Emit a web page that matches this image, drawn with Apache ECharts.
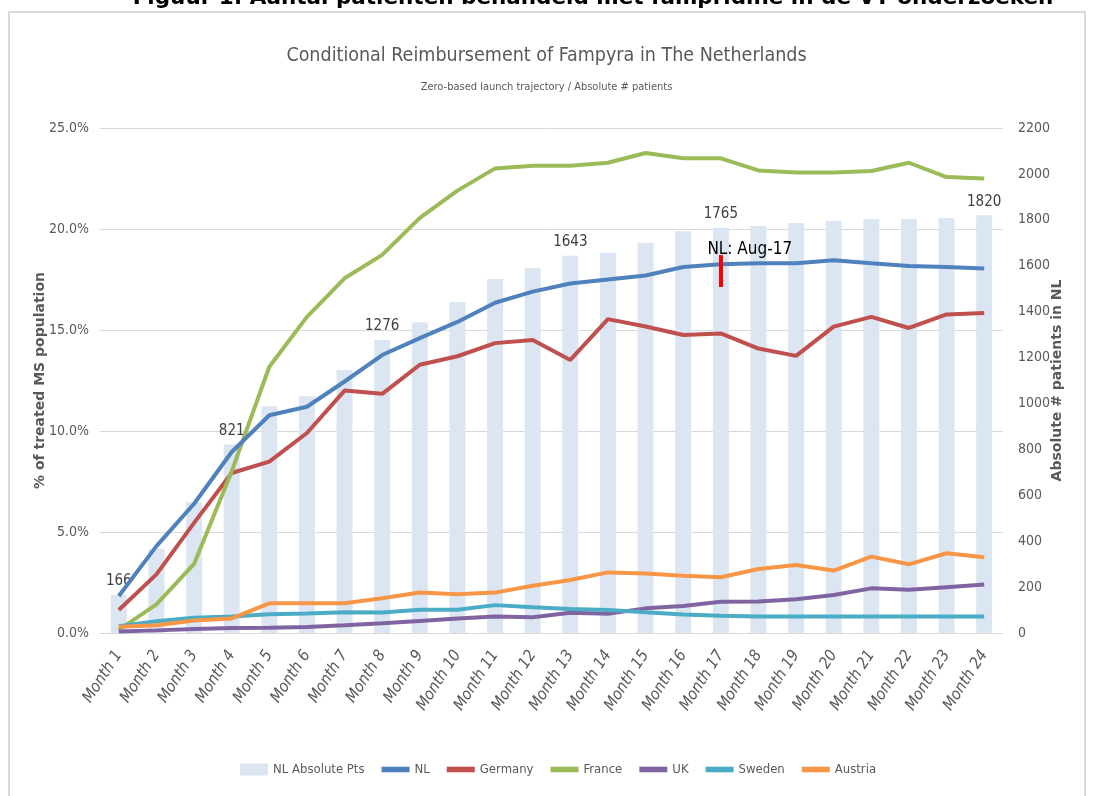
<!DOCTYPE html>
<html>
<head>
<meta charset="utf-8">
<script src="https://cdn.jsdelivr.net/npm/echarts@6/dist/echarts.min.js"></script>
<style>
  html, body { margin: 0; padding: 0; background: #fff; }
  #chart { width: 1093px; height: 796px; }
</style>
</head>
<body>
<div id="chart"></div>
<script>
const months = ['Month 1', 'Month 2', 'Month 3', 'Month 4', 'Month 5', 'Month 6', 'Month 7', 'Month 8',
  'Month 9', 'Month 10', 'Month 11', 'Month 12', 'Month 13', 'Month 14', 'Month 15', 'Month 16',
  'Month 17', 'Month 18', 'Month 19', 'Month 20', 'Month 21', 'Month 22', 'Month 23', 'Month 24'];

// absolute number of NL patients (right axis)
const nlPts = [166, 366, 571, 821, 988, 1031, 1146, 1276, 1354, 1442, 1542, 1590,
  1643, 1656, 1700, 1750, 1765, 1773, 1786, 1795, 1804, 1804, 1808, 1820];
// which bars carry a value label
const labelledMonths = ['Month 1', 'Month 4', 'Month 8', 'Month 13', 'Month 17', 'Month 24'];

// % of treated MS population (left axis)
const nl = [1.83, 4.3, 6.4, 8.96, 10.78, 11.2, 12.45, 13.76, 14.6, 15.4, 16.35, 16.9,
  17.3, 17.5, 17.7, 18.12, 18.25, 18.3, 18.3, 18.45, 18.3, 18.17, 18.12, 18.05];
const germany = [1.14, 2.9, 5.45, 7.92, 8.48, 9.9, 12.0, 11.84, 13.28, 13.7, 14.35, 14.5,
  13.52, 15.54, 15.17, 14.75, 14.83, 14.08, 13.72, 15.17, 15.65, 15.1, 15.77, 15.84];
const france = [0.15, 1.42, 3.42, 8.0, 13.18, 15.65, 17.56, 18.72, 20.55, 21.9, 23.0, 23.13,
  23.13, 23.28, 23.76, 23.5, 23.5, 22.9, 22.8, 22.8, 22.87, 23.28, 22.57, 22.5];
const uk = [0.07, 0.13, 0.2, 0.25, 0.26, 0.3, 0.38, 0.48, 0.6, 0.72, 0.82, 0.78,
  1.0, 0.95, 1.22, 1.34, 1.55, 1.56, 1.67, 1.88, 2.21, 2.14, 2.27, 2.4];
const sweden = [0.33, 0.58, 0.76, 0.82, 0.93, 0.97, 1.03, 1.02, 1.15, 1.15, 1.38, 1.27,
  1.19, 1.14, 1.03, 0.92, 0.86, 0.82, 0.82, 0.82, 0.82, 0.82, 0.82, 0.82];
const austria = [0.31, 0.38, 0.62, 0.72, 1.47, 1.47, 1.47, 1.72, 2.0, 1.92, 2.0, 2.34,
  2.62, 3.0, 2.95, 2.84, 2.76, 3.17, 3.37, 3.09, 3.78, 3.4, 3.95, 3.75];

const pctTicks = { min: 0, max: 25, interval: 5 };
const ptsTicks = { min: 0, max: 2200, interval: 200 };

// NL reimbursement marker
const markerMonth = 'Month 17';
const markerRange = [17.13, 18.71];
const markerText = 'NL: Aug-17';

const narrow = "'DejaVu Sans Condensed', 'Liberation Sans Narrow', 'Liberation Sans', sans-serif";
const grey = '#595959';

const lineIcon = 'path://M0,0h20v4h-20z';

function lineSeries(name, data, color) {
  return {
    name: name,
    type: 'line',
    yAxisIndex: 0,
    data: data,
    showSymbol: false,
    symbol: 'none',
    lineStyle: { width: 4, color: color },
    itemStyle: { color: color },
    z: 3
  };
}

const chart = echarts.init(document.getElementById('chart'));

const nlSeries = lineSeries('NL', nl, '#4F81BD');
nlSeries.z = 4;
nlSeries.markLine = {
  silent: true,
  symbol: 'none',
  lineStyle: { color: '#ff0000', width: 4, type: 'solid' },
  label: { show: false },
  data: [[{ coord: [markerMonth, markerRange[0]] }, { coord: [markerMonth, markerRange[1]] }]]
};
nlSeries.markPoint = {
  silent: true,
  symbol: 'circle',
  symbolSize: 0,
  label: {
    show: true,
    position: 'inside',
    offset: [29, 0],
    formatter: markerText,
    color: '#000',
    fontSize: 17,
    fontFamily: narrow
  },
  data: [{ coord: [markerMonth, 18.96] }]
};

chart.setOption({
  animation: false,
  backgroundColor: '#fff',
  title: {
    text: 'Conditional Reimbursement of Fampyra in The Netherlands',
    subtext: 'Zero-based launch trajectory / Absolute # patients',
    left: 'center',
    top: 41,
    itemGap: 16,
    textStyle: { fontFamily: narrow, fontSize: 19.5, fontWeight: 'normal', color: grey },
    subtextStyle: { fontFamily: narrow, fontSize: 11, color: grey }
  },
  graphic: [
    {
      type: 'rect',
      shape: { x: 9, y: 12, width: 1076, height: 800 },
      style: { fill: 'none', stroke: '#d9d9d9', lineWidth: 2 },
      silent: true,
      z: -10
    },
    {
      type: 'text',
      x: 593,
      y: 9,
      style: {
        text: 'Figuur 1: Aantal patiënten behandeld met fampridine in de VT onderzoeken',
        fontFamily: 'DejaVu Sans',
        fontWeight: 'bold',
        fontSize: 21.5,
        fill: '#000',
        align: 'center',
        verticalAlign: 'bottom'
      },
      silent: true
    }
  ],
  legend: {
    bottom: 15,
    left: 235,
    itemWidth: 28,
    itemHeight: 12,
    itemGap: 17,
    textStyle: { fontFamily: narrow, fontSize: 13, color: grey },
    data: [
      { name: 'NL Absolute Pts', icon: 'rect' },
      { name: 'NL', icon: lineIcon },
      { name: 'Germany', icon: lineIcon },
      { name: 'France', icon: lineIcon },
      { name: 'UK', icon: lineIcon },
      { name: 'Sweden', icon: lineIcon },
      { name: 'Austria', icon: lineIcon }
    ]
  },
  grid: { left: 100, right: 90, top: 128, bottom: 163, containLabel: false },
  xAxis: {
    type: 'category',
    data: months,
    boundaryGap: true,
    axisLine: { lineStyle: { color: '#d9d9d9', width: 1 } },
    axisTick: { show: false },
    axisLabel: {
      rotate: 57,
      margin: 19,
      interval: 0,
      fontFamily: narrow,
      fontStyle: 'italic',
      fontSize: 16,
      color: grey
    }
  },
  yAxis: [
    {
      type: 'value',
      min: pctTicks.min,
      max: pctTicks.max,
      interval: pctTicks.interval,
      name: '% of treated MS population',
      nameLocation: 'middle',
      nameGap: 53,
      nameMoveOverlap: false,
      nameTextStyle: { fontFamily: 'DejaVu Sans', fontWeight: 'bold', fontSize: 14, color: grey },
      axisLine: { show: false },
      axisTick: { show: false },
      axisLabel: {
        margin: 11,
        fontFamily: narrow,
        fontSize: 14,
        color: grey,
        formatter: v => v.toFixed(1) + '%'
      },
      splitLine: { lineStyle: { color: '#d9d9d9', width: 1 } }
    },
    {
      type: 'value',
      min: ptsTicks.min,
      max: ptsTicks.max,
      interval: ptsTicks.interval,
      name: 'Absolute # patients in NL',
      nameLocation: 'middle',
      nameGap: 47,
      nameMoveOverlap: false,
      nameTextStyle: { fontFamily: 'DejaVu Sans', fontWeight: 'bold', fontSize: 14, color: grey },
      axisLine: { show: false },
      axisTick: { show: false },
      axisLabel: {
        margin: 15,
        fontFamily: narrow,
        fontSize: 14,
        color: grey,
        formatter: v => String(v)
      },
      splitLine: { show: false }
    }
  ],
  series: [
    {
      name: 'NL Absolute Pts',
      type: 'bar',
      yAxisIndex: 1,
      barWidth: 16,
      itemStyle: { color: '#DCE6F2' },
      data: nlPts.map((v, i) => ({
        value: v,
        label: {
          show: labelledMonths.indexOf(months[i]) >= 0,
          position: 'top',
          distance: 6,
          fontFamily: narrow,
          fontSize: 15,
          color: '#404040'
        }
      })),
      z: 1
    },
    nlSeries,
    lineSeries('Germany', germany, '#C0504D'),
    lineSeries('France', france, '#9BBB59'),
    lineSeries('UK', uk, '#8064A2'),
    lineSeries('Sweden', sweden, '#4BACC6'),
    lineSeries('Austria', austria, '#F79646')
  ]
});
</script>
</body>
</html>
